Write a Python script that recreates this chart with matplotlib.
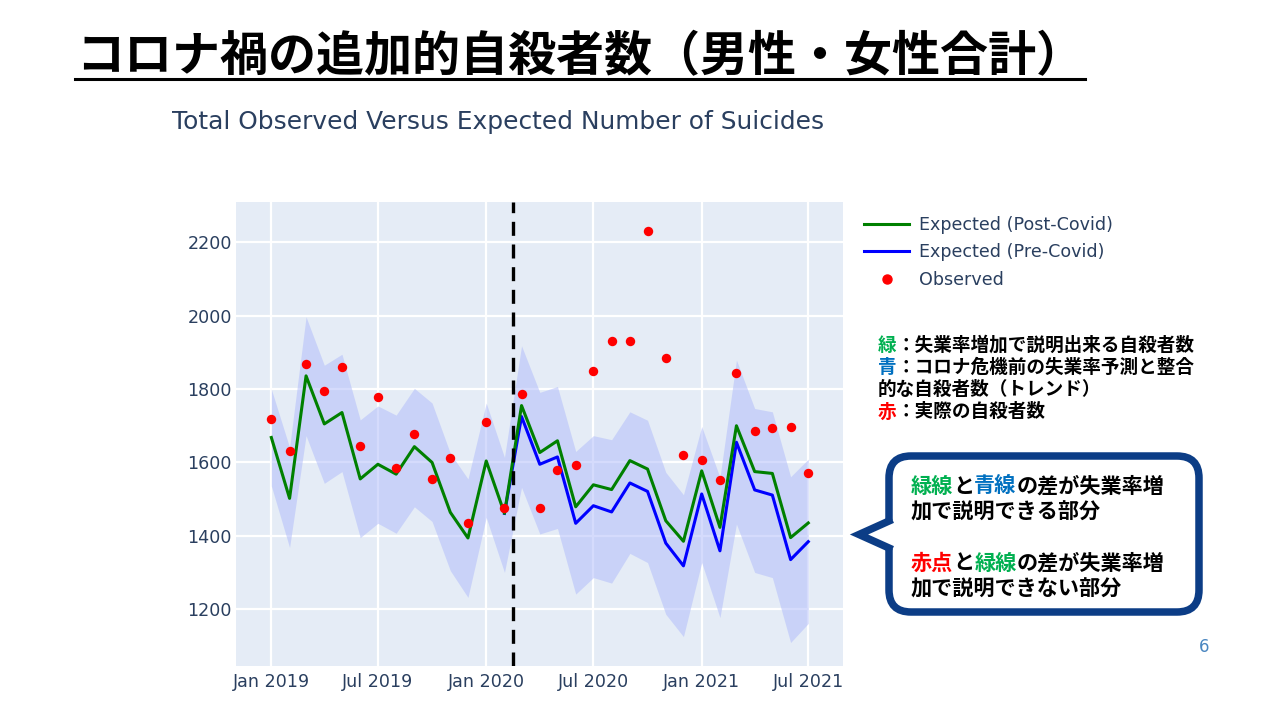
import pandas as pd
import matplotlib.pyplot as plt
from matplotlib.patches import FancyBboxPatch, Polygon
from matplotlib.lines import Line2D

# Monthly values (Jan 2019 .. Jul 2021)
months = pd.date_range("2019-01-01", periods=31, freq="MS")

observed = [1718, 1632, 1868, 1794, 1859, 1644, 1779, 1585, 1677, 1556, 1611, 1435,
            1710, 1477, 1786, 1477, 1579, 1594, 1849, 1931, 1931, 2230, 1886, 1621,
            1607, 1552, 1845, 1685, 1695, 1697, 1570]

expected_post = [1668, 1502, 1836, 1705, 1736, 1555, 1595, 1568, 1643, 1600, 1464, 1394,
                 1604, 1461, 1755, 1627, 1659, 1479, 1539, 1526, 1605, 1582, 1441, 1385,
                 1577, 1423, 1700, 1575, 1570, 1395, 1435]

# pre-covid expectation only drawn from Feb 2020 on
pre_start = 13
expected_pre = [1461, 1725, 1595, 1615, 1434, 1482, 1465, 1544, 1521, 1380, 1318,
                1514, 1359, 1655, 1525, 1511, 1335, 1384]

band_upper = [1800, 1641, 1997, 1865, 1895, 1716, 1754, 1729, 1802, 1762, 1625, 1555,
              1762, 1614, 1918, 1791, 1807, 1630, 1673, 1662, 1738, 1715, 1573, 1512,
              1698, 1559, 1879, 1747, 1738, 1561, 1609]
band_lower = [1536, 1368, 1673, 1543, 1575, 1395, 1434, 1407, 1479, 1439, 1305, 1232,
              1450, 1300, 1532, 1405, 1420, 1241, 1286, 1271, 1352, 1327, 1186, 1125,
              1327, 1177, 1432, 1300, 1286, 1109, 1161]

covid_start = pd.Timestamp("2020-02-15")
yticks = [1200, 1400, 1600, 1800, 2000, 2200]
xtick_dates = pd.to_datetime(["2019-01-01", "2019-07-01", "2020-01-01",
                              "2020-07-01", "2021-01-01", "2021-07-01"])
xtick_labels = ["Jan 2019", "Jul 2019", "Jan 2020", "Jul 2020", "Jan 2021", "Jul 2021"]

title_jp = "コロナ禍の追加的自殺者数（男性・女性合計）"
subtitle = "Total Observed Versus Expected Number of Suicides"

# notes: lists of (text, colour) runs per line
notes = [
    [("緑", "#00b050"), ("：失業率増加で説明出来る自殺者数", "black")],
    [("青", "#0070c0"), ("：コロナ危機前の失業率予測と整合", "black")],
    [("的な自殺者数（トレンド）", "black")],
    [("赤", "#ff0000"), ("：実際の自殺者数", "black")],
]
callout = [
    [("緑線", "#00b050"), ("と", "black"), ("青線", "#0070c0"), ("の差が失業率増", "black")],
    [("加で説明できる部分", "black")],
    [("赤点", "#ff0000"), ("と", "black"), ("緑線", "#00b050"), ("の差が失業率増", "black")],
    [("加で説明できない部分", "black")],
]

W, H, DPI = 1280, 720, 100
JP = ["Noto Sans CJK JP", "DejaVu Sans"]
TXT = "#2a3f5f"

fig = plt.figure(figsize=(W / DPI, H / DPI), dpi=DPI)
fig.patch.set_facecolor("white")

# plot area in pixel coordinates
left, top, right, bottom = 236, 202, 843, 666
ax = fig.add_axes([left / W, 1 - bottom / H, (right - left) / W, (bottom - top) / H])
ax.set_facecolor("#e5ecf6")
for s in ax.spines.values():
    s.set_visible(False)

ax.fill_between(months, band_lower, band_upper, color="#b3befa", alpha=0.55,
                linewidth=0, zorder=2)
ax.plot(months[pre_start:], expected_pre, color="blue", linewidth=2.2, zorder=3,
        label="Expected (Pre-Covid)")
ax.plot(months, expected_post, color="green", linewidth=2.2, zorder=4,
        label="Expected (Post-Covid)")
ax.scatter(months, observed, color="red", s=46, zorder=5, linewidths=0,
           label="Observed")
ax.axvline(covid_start, color="black", linewidth=2.4, linestyle=(0, (4.2, 2.6)), zorder=6)

ax.set_xlim(pd.Timestamp("2018-11-02"), pd.Timestamp("2021-08-29"))
ax.set_ylim(1045, 2310)
ax.set_yticks(yticks)
ax.set_yticklabels([str(v) for v in yticks])
ax.set_xticks(xtick_dates)
ax.set_xticklabels(xtick_labels)
ax.grid(True, color="white", linewidth=1.6, zorder=1)
ax.set_axisbelow(True)
ax.tick_params(length=0, labelsize=12.6, labelcolor=TXT)
ax.tick_params(axis="y", pad=3)
ax.tick_params(axis="x", pad=5)

handles = [Line2D([], [], color="green", linewidth=2.2),
           Line2D([], [], color="blue", linewidth=2.2),
           Line2D([], [], color="red", marker="o", linestyle="none", markersize=6.5)]
fig.legend(handles, ["Expected (Post-Covid)", "Expected (Pre-Covid)", "Observed"],
           loc="upper left", bbox_to_anchor=(855 / W, 1 - 207 / H), frameon=False,
           fontsize=12.6, labelcolor=TXT, handlelength=2.6, handletextpad=0.55,
           labelspacing=0.55, borderpad=0)

# overlay in pixel coordinates for titles and annotations
ov = fig.add_axes([0, 0, 1, 1], zorder=10)
ov.set_xlim(0, W)
ov.set_ylim(H, 0)
ov.axis("off")
ov.patch.set_alpha(0)

ov.text(76, 57, title_jp, fontsize=34.6, fontweight="bold", family=JP,
        va="center", ha="left")
ov.plot([75, 1085], [78.5, 78.5], color="black", linewidth=2.2)
ov.text(172, 122, subtitle, fontsize=17.9, color=TXT, va="center", ha="left",
        family="DejaVu Sans")
ov.text(1204, 647, "6", fontsize=12, color="#4a86c0", va="center", ha="center")


def draw_runs(x0, y, runs, size, weight="bold"):
    # full-width glyphs: every character takes one em
    em = size * DPI / 72
    x = x0
    for txt, col in runs:
        ov.text(x, y, txt, fontsize=size, color=col, family=JP, fontweight=weight,
                va="center", ha="left")
        x += em * len(txt)


for i, line in enumerate(notes):
    draw_runs(878, 345 + i * 22.3, line, 13.4)

# callout box with pointer
box_col = "#0c3d86"
box = FancyBboxPatch((889, 456), 310, 156, boxstyle="round,pad=0,rounding_size=22",
                     facecolor="white", edgecolor=box_col, linewidth=5.4, zorder=1)
ov.add_patch(box)
ov.add_patch(Polygon([[893, 520], [859, 534.5], [893, 549]], closed=True,
                     facecolor="white", edgecolor="none", zorder=2))
ov.plot([889, 859, 889], [521, 534.5, 548], color=box_col, linewidth=5.4,
        solid_joinstyle="miter", zorder=3)

cy = [486, 512, 563, 589]
for y, line in zip(cy, callout):
    draw_runs(911, y, line, 15.2)

fig.savefig("out.png", dpi=DPI)
